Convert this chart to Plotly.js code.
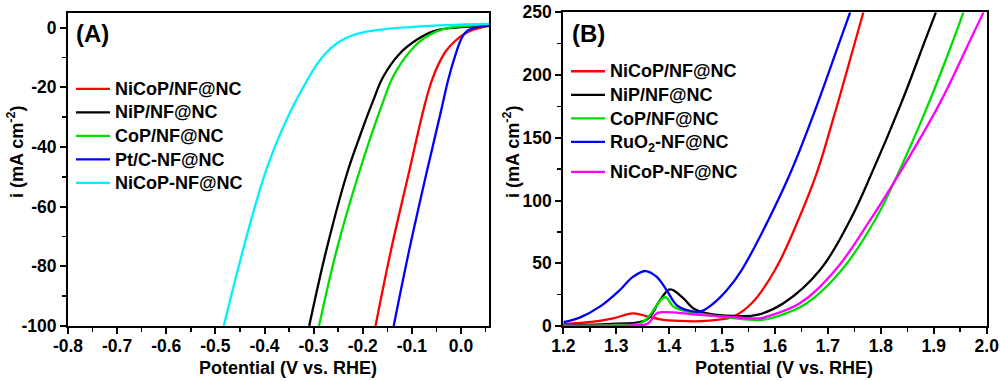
<!DOCTYPE html>
<html>
<head>
<meta charset="utf-8">
<script src="https://cdn.plot.ly/plotly-3.0.1.min.js"></script>
<style>html,body{margin:0;padding:0;background:#fff;}#chart{width:1000px;height:381px;}</style>
</head>
<body>
<div id="chart"></div>
<script>
// ---------- Panel A (HER) ----------
const seriesNamesA = ['NiCoP/NF@NC', 'NiP/NF@NC', 'CoP/NF@NC', 'Pt/C-NF@NC', 'NiCoP-NF@NC'];
const xA_NiCoP_NF = [-0.174, -0.143, -0.108, -0.074, -0.060, -0.045, -0.029, -0.012, 0.005, 0.025, 0.057];
const yA_NiCoP_NF = [-100, -75, -50, -26, -18, -12, -7.5, -4.5, -2.3, -0.7, 0.6];
const xA_NiP = [-0.309, -0.274, -0.233, -0.205, -0.180, -0.158, -0.124, -0.090, -0.057, -0.023, 0.057];
const yA_NiP = [-100, -74.5, -49.4, -36, -25, -16.4, -8.6, -4.1, -1.3, -0.2, 0.6];
const xA_CoP = [-0.289, -0.253, -0.209, -0.160, -0.138, -0.104, -0.070, -0.036, 0.057];
const yA_CoP = [-100, -74.5, -49.4, -25.5, -16.4, -8, -3, -0.5, 1.0];
const xA_PtC = [-0.137, -0.106, -0.072, -0.040, -0.026, -0.012, 0.000, 0.008, 0.020, 0.057];
const yA_PtC = [-100, -75, -50, -27.5, -17.5, -9.5, -4.0, -1.8, -0.5, 0.9];
const xA_NiCoP_mix = [-0.483, -0.454, -0.423, -0.395, -0.365, -0.335, -0.294, -0.275, -0.255, -0.235, -0.215, -0.190, -0.150, -0.100, -0.030, 0.057];
const yA_NiCoP_mix = [-100, -81, -62, -47, -34.5, -24.2, -12.5, -8.5, -5.6, -3.6, -2.3, -1.3, -0.4, 0.2, 0.8, 1.2];

// ---------- Panel B (OER) ----------
const seriesNamesB = ['NiCoP/NF@NC', 'NiP/NF@NC', 'CoP/NF@NC', 'RuO<sub>2</sub>-NF@NC', 'NiCoP-NF@NC'];
const xB_NiCoP_NF = [1.20, 1.257, 1.294, 1.332, 1.358, 1.383, 1.42, 1.46, 1.49, 1.521, 1.556, 1.600, 1.644, 1.679, 1.712, 1.745, 1.767];
const yB_NiCoP_NF = [1.5, 3.4, 6.1, 10.1, 7.7, 5.3, 4.0, 3.8, 4.8, 7.4, 18.1, 44.6, 84.5, 122, 168, 217, 250];
const xB_NiP = [1.20, 1.30, 1.357, 1.383, 1.4016, 1.427, 1.446, 1.477, 1.521, 1.566, 1.616, 1.685, 1.742, 1.783, 1.838, 1.884, 1.904];
const yB_NiP = [0.8, 1.8, 5.0, 20.7, 29.2, 22, 14, 9.6, 8.0, 8.8, 18.1, 44.6, 84.5, 122, 177, 228, 250];
const xB_CoP = [1.20, 1.30, 1.35, 1.392, 1.408, 1.427, 1.458, 1.509, 1.572, 1.603, 1.66, 1.726, 1.789, 1.833, 1.888, 1.937, 1.956];
const yB_CoP = [0.3, 0.8, 3.0, 22.9, 15.4, 12.2, 9.6, 6.9, 4.8, 7.4, 18.1, 44.6, 84.5, 122, 175, 228, 250];
const xB_RuO2 = [1.20, 1.232, 1.269, 1.307, 1.332, 1.356, 1.376, 1.395, 1.414, 1.433, 1.458, 1.484, 1.51, 1.537, 1.5875, 1.6315, 1.676, 1.720, 1.742];
const yB_RuO2 = [3.0, 6.9, 15.4, 28.7, 39.3, 43.8, 39.3, 28.7, 16.7, 12.7, 11.4, 18.1, 29, 44.6, 84.5, 124.3, 172.2, 224, 250];
const xB_NiCoP_mix = [1.20, 1.33, 1.36, 1.376, 1.389, 1.414, 1.458, 1.509, 1.572, 1.584, 1.647, 1.714, 1.780, 1.830, 1.912, 1.969, 1.994];
const yB_NiCoP_mix = [0.2, 0.5, 2.0, 10, 11.0, 10.6, 8.8, 7.4, 6.1, 7.4, 18.1, 44.6, 84.5, 118, 178, 228, 250];

// ---------- Ticks ----------
const tickValsAX = [-0.8, -0.7, -0.6, -0.5, -0.4, -0.3, -0.2, -0.1, 0.0];
const tickTextAX = ['-0.8', '-0.7', '-0.6', '-0.5', '-0.4', '-0.3', '-0.2', '-0.1', '0.0'];
const tickValsAY = [-100, -80, -60, -40, -20, 0];
const tickTextAY = ['-100', '-80', '-60', '-40', '-20', '0'];
const tickValsBX = [1.2, 1.3, 1.4, 1.5, 1.6, 1.7, 1.8, 1.9, 2.0];
const tickTextBX = ['1.2', '1.3', '1.4', '1.5', '1.6', '1.7', '1.8', '1.9', '2.0'];
const tickValsBY = [0, 50, 100, 150, 200, 250];
const tickTextBY = ['0', '50', '100', '150', '200', '250'];

const colorsA = ['#ff0000', '#000000', '#00dd00', '#0000ff', '#00f0ff'];
const colorsB = ['#ff0000', '#000000', '#00dd00', '#0000ff', '#ff00ff'];
const groupsB = ['g1', 'g1', 'g1', 'g1', 'g2'];

const FONT = 'Liberation Sans, Arial, Helvetica, sans-serif';
const legendName = s => '<span style="font-size:18px">' + s + '</span>';

const dataA = [[xA_NiCoP_NF, yA_NiCoP_NF], [xA_NiP, yA_NiP], [xA_CoP, yA_CoP], [xA_PtC, yA_PtC], [xA_NiCoP_mix, yA_NiCoP_mix]];
const dataB = [[xB_NiCoP_NF, yB_NiCoP_NF], [xB_NiP, yB_NiP], [xB_CoP, yB_CoP], [xB_RuO2, yB_RuO2], [xB_NiCoP_mix, yB_NiCoP_mix]];

const traces = [];
dataA.forEach((d, i) => traces.push({
  x: d[0], y: d[1], name: legendName(seriesNamesA[i]), type: 'scatter', mode: 'lines',
  line: {color: colorsA[i], width: 2.3, shape: 'spline', smoothing: 1.1},
  xaxis: 'x', yaxis: 'y', legend: 'legend'
}));
dataB.forEach((d, i) => traces.push({
  x: d[0], y: d[1], name: legendName(seriesNamesB[i]), type: 'scatter', mode: 'lines',
  line: {color: colorsB[i], width: 2.3, shape: 'spline', smoothing: 1.1},
  xaxis: 'x2', yaxis: 'y2', legend: 'legend2', legendgroup: groupsB[i]
}));

const tickFont = {family: FONT, size: 17.5, color: '#000', weight: 'bold'};
const titleFont = {family: FONT, size: 18, color: '#000', weight: 'bold'};
function axis(extra) {
  return Object.assign({
    showline: true, linewidth: 2, linecolor: '#000', mirror: true,
    ticks: 'outside', ticklen: 6, tickwidth: 2, tickcolor: '#000',
    showgrid: false, zeroline: false, tickfont: tickFont, tickmode: 'array',
    automargin: false
  }, extra);
}
const legendBase = {
  xanchor: 'left', yanchor: 'top', bgcolor: 'rgba(0,0,0,0)', borderwidth: 0,
  font: {family: FONT, size: 15.8, color: '#000', weight: 'bold'}, itemwidth: 34
};

const layout = {
  width: 1000, height: 381,
  margin: {l: 0, r: 0, t: 0, b: 0},
  paper_bgcolor: '#fff', plot_bgcolor: '#fff',
  showlegend: true,
  xaxis: axis({domain: [0.068, 0.489], range: [-0.8, 0.057], tickvals: tickValsAX, ticktext: tickTextAX,
    ticklabelstandoff: -3,
    minor: {tickmode: 'linear', tick0: -0.8, dtick: 0.05, ticks: 'outside', ticklen: 4, tickwidth: 1.5, tickcolor: '#000'},
    anchor: 'y'}),
  yaxis: axis({domain: [0.1444, 0.966], range: [-100, 4.9], tickvals: tickValsAY, ticktext: tickTextAY,
    minor: {tickmode: 'linear', tick0: 0, dtick: 10, ticks: 'outside', ticklen: 4, tickwidth: 1.5, tickcolor: '#000'},
    anchor: 'x'}),
  xaxis2: axis({domain: [0.5633, 0.9867], range: [1.2, 2.0], tickvals: tickValsBX, ticktext: tickTextBX,
    ticklabelstandoff: -3,
    minor: {tickmode: 'linear', tick0: 1.2, dtick: 0.05, ticks: 'outside', ticklen: 4, tickwidth: 1.5, tickcolor: '#000'},
    anchor: 'y2'}),
  yaxis2: axis({domain: [0.1444, 0.9677], range: [0, 250], tickvals: tickValsBY, ticktext: tickTextBY,
    minor: {tickmode: 'linear', tick0: 0, dtick: 25, ticks: 'outside', ticklen: 4, tickwidth: 1.5, tickcolor: '#000'},
    anchor: 'x2'}),
  legend: Object.assign({x: 0.071, y: 0.811, traceorder: 'normal'}, legendBase),
  legend2: Object.assign({x: 0.566, y: 0.857, traceorder: 'grouped', tracegroupgap: 6.5}, legendBase),
  annotations: [
    {text: '(A)', xref: 'paper', yref: 'paper', x: 0.074, y: 0.913, xanchor: 'left', yanchor: 'middle', showarrow: false,
     font: {family: FONT, size: 24, color: '#000', weight: 'bold'}},
    {text: '(B)', xref: 'paper', yref: 'paper', x: 0.570, y: 0.913, xanchor: 'left', yanchor: 'middle', showarrow: false,
     font: {family: FONT, size: 24, color: '#000', weight: 'bold'}},
    {text: 'Potential (V vs. RHE)', xref: 'paper', yref: 'paper', x: 0.288, y: 0.034, xanchor: 'center', yanchor: 'middle',
     showarrow: false, font: titleFont},
    {text: 'Potential (V vs. RHE)', xref: 'paper', yref: 'paper', x: 0.784, y: 0.034, xanchor: 'center', yanchor: 'middle',
     showarrow: false, font: titleFont},
    {text: 'i (mA cm<sup>-2</sup>)', xref: 'paper', yref: 'paper', x: 0.015, y: 0.601, xanchor: 'center', yanchor: 'middle',
     textangle: -90, showarrow: false, font: titleFont},
    {text: 'i (mA cm<sup>-2</sup>)', xref: 'paper', yref: 'paper', x: 0.511, y: 0.601, xanchor: 'center', yanchor: 'middle',
     textangle: -90, showarrow: false, font: titleFont}
  ]
};

Plotly.newPlot('chart', traces, layout, {displayModeBar: false, staticPlot: true});
</script>
</body>
</html>
